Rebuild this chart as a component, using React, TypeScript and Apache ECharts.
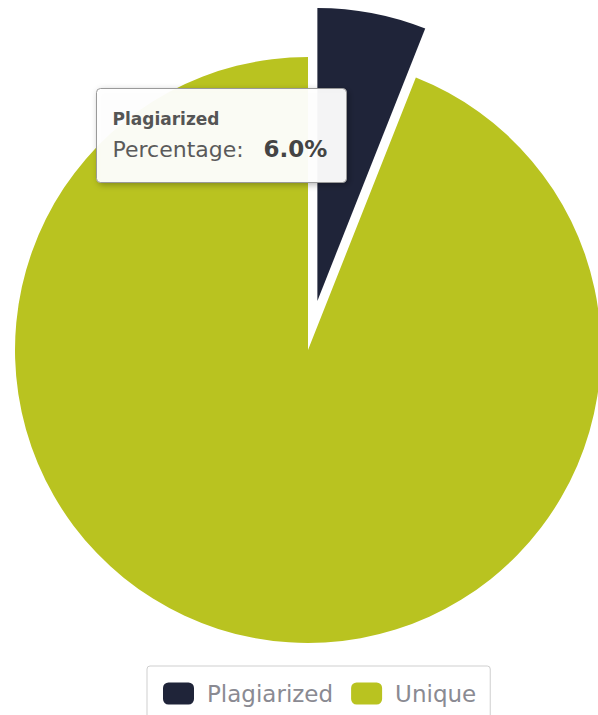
import React, { useEffect, useRef } from "react";
import * as echarts from "echarts";

const categories = ["Plagiarized", "Unique"];
const values = [6.0, 94.0];
const colors = ["#1f2439", "#b9c320"];
const tooltipTitle = "Plagiarized";
const tooltipLabel = "Percentage:";
const tooltipValue = "6.0%";

const FONT = "'DejaVu Sans', Verdana, sans-serif";

export default function App() {
  const ref = useRef<HTMLDivElement>(null);
  useEffect(() => {
    document.body.style.margin = "0";
    const chart = echarts.init(ref.current!, null, { renderer: "svg" });
    chart.setOption({
      animation: false,
      backgroundColor: "#ffffff",
      legend: {
        data: categories,
        left: 147,
        top: 666,
        orient: "horizontal",
        borderColor: "#cfcfcf",
        borderWidth: 1,
        borderRadius: 3,
        padding: [16, 14, 16, 16],
        itemWidth: 31,
        itemHeight: 22,
        itemGap: 18,
        icon: "roundRect",
        textStyle: {
          fontSize: 23,
          color: "#8a8a92",
          fontFamily: FONT,
          padding: [0, 0, 0, 8],
        },
        selectedMode: false,
      },
      series: [
        {
          type: "pie",
          z: 2,
          center: [308, 350],
          radius: 293,
          startAngle: 90,
          clockwise: true,
          selectedMode: "single",
          selectedOffset: 50,
          label: { show: false },
          labelLine: { show: false },
          emphasis: { disabled: true },
          data: categories.map((name, i) => ({
            name,
            value: values[i],
            selected: i === 0,
            itemStyle: { color: colors[i] },
          })),
        },
      ],
      graphic: [
        {
          type: "group",
          left: 96,
          top: 88,
          z: 100,
          zlevel: 1,
          children: [
            {
              type: "rect",
              z: 100,
              shape: { x: 0, y: 0, width: 250, height: 94, r: 4 },
              style: {
                fill: "rgba(255,255,255,0.94)",
                stroke: "#9a9a9a",
                lineWidth: 1,
                shadowBlur: 6,
                shadowOffsetX: 2,
                shadowOffsetY: 2,
                shadowColor: "rgba(0,0,0,0.3)",
              },
            },
            {
              type: "text",
              z: 101,
              style: {
                x: 16,
                y: 30,
                text: tooltipTitle,
                fontSize: 17,
                fontWeight: "bold",
                fill: "#555555",
                fontFamily: FONT,
                verticalAlign: "middle",
              },
            },
            {
              type: "text",
              z: 101,
              style: {
                x: 16,
                y: 61,
                text: tooltipLabel,
                fontSize: 22,
                fill: "#5a5a5a",
                fontFamily: FONT,
                verticalAlign: "middle",
              },
            },
            {
              type: "text",
              z: 101,
              style: {
                x: 167,
                y: 60,
                text: tooltipValue,
                fontSize: 23,
                fontWeight: "bold",
                fill: "#444444",
                fontFamily: FONT,
                verticalAlign: "middle",
              },
            },
          ],
        },
      ],
    });
    return () => chart.dispose();
  }, []);
  return (
    <div
      ref={ref}
      style={{ position: "fixed", left: 0, top: 0, width: 598, height: 715 }}
    />
  );
}
